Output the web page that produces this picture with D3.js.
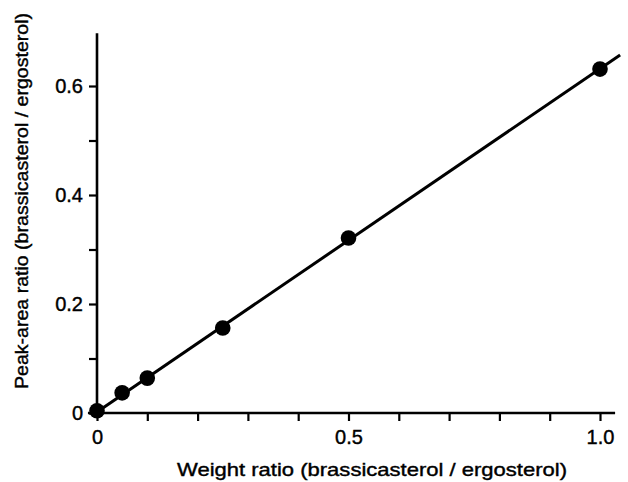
<!DOCTYPE html>
<html><head><meta charset="utf-8">
<script src="https://cdn.jsdelivr.net/npm/d3@7"></script>
<style>body{margin:0;background:#fff}svg{display:block}text{font-family:"Liberation Sans",Arial,sans-serif;fill:#000}</style>
</head><body>
<svg id="c" width="628" height="482"></svg>
<script>
const weightRatio = [0, 0.05, 0.1, 0.25, 0.5, 1.0];
const peakAreaRatio = [0.004, 0.037, 0.064, 0.156, 0.321, 0.631];
const fitLineX = [0, 1.04];
const fitLineY = [0.002, 0.657];
const xTicks = [0,0.1,0.2,0.3,0.4,0.5,0.6,0.7,0.8,0.9,1.0];
const xTickLabels = {0:"0", 0.5:"0.5", 1:"1.0"};
const yTicks = [0,0.1,0.2,0.3,0.4,0.5,0.6];
const yTickLabels = {0:"0", 0.2:"0.2", 0.4:"0.4", 0.6:"0.6"};
const xTitle = "Weight ratio (brassicasterol / ergosterol)";
const yTitle = "Peak-area ratio (brassicasterol / ergosterol)";

const svg = d3.select("#c");
const x = d3.scaleLinear().domain([0,1]).range([97,600]);
const y = d3.scaleLinear().domain([0,0.6]).range([413,86]);
const FONT = "'Liberation Sans',Arial,sans-serif";

// axes
const xAxis = d3.axisBottom(x).tickValues(xTicks).tickSize(8).tickPadding(9)
  .tickFormat(d => xTickLabels[Math.round(d*10)/10] || "");
const gx = svg.append("g").attr("transform","translate(0,"+y(0)+")").call(xAxis);
gx.select(".domain").remove();
gx.append("line").attr("x1",x(-0.018)).attr("x2",x(1.03)).attr("y1",0).attr("y2",0).attr("stroke","#000").attr("stroke-width",2.6);
gx.selectAll(".tick line").attr("stroke","#000").attr("stroke-width",2.2);
gx.selectAll(".tick text").attr("font-size",20).attr("fill","#000").attr("stroke","#000").attr("stroke-width",0.4).style("font-family",FONT);

const yAxis = d3.axisLeft(y).tickValues(yTicks).tickSize(8).tickPadding(6)
  .tickFormat(d => yTickLabels[Math.round(d*10)/10] || "");
const gy = svg.append("g").attr("transform","translate("+x(0)+",0)").call(yAxis);
gy.select(".domain").remove();
gy.append("line").attr("x1",0).attr("x2",0).attr("y1",y(0)+2).attr("y2",y(0.697)).attr("stroke","#000").attr("stroke-width",2.6);
gy.selectAll(".tick line").attr("stroke","#000").attr("stroke-width",2.2);
gy.selectAll(".tick text").attr("font-size",20).attr("fill","#000").attr("stroke","#000").attr("stroke-width",0.4).style("font-family",FONT);

// fit line
const fit = fitLineX.map((v,i)=>[v, fitLineY[i]]);
svg.append("path").datum(fit)
  .attr("d", d3.line().x(d=>x(d[0])).y(d=>y(d[1])))
  .attr("stroke","#000").attr("stroke-width",3).attr("fill","none");

// points
svg.selectAll("circle.pt").data(weightRatio.map((v,i)=>[v, peakAreaRatio[i]]))
  .join("circle").attr("class","pt")
  .attr("cx",d=>x(d[0])).attr("cy",d=>y(d[1])).attr("r",7.8).attr("fill","#000");

// titles
svg.append("text").attr("x",372).attr("y",476).attr("text-anchor","middle").attr("font-size",19)
  .attr("stroke","#000").attr("stroke-width",0.4)
  .attr("textLength",390).attr("lengthAdjust","spacingAndGlyphs").text(xTitle);
svg.append("text").attr("transform","translate(28,201) rotate(-90)").attr("text-anchor","middle").attr("font-size",19)
  .attr("stroke","#000").attr("stroke-width",0.4)
  .attr("textLength",376).attr("lengthAdjust","spacingAndGlyphs").text(yTitle);
</script>
</body></html>
